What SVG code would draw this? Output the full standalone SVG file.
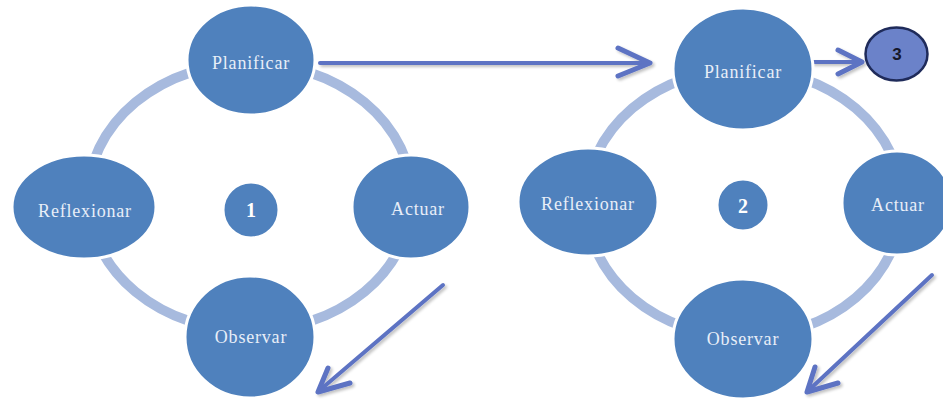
<svg xmlns="http://www.w3.org/2000/svg" width="943" height="402" viewBox="0 0 943 402">
  <defs>
    <filter id="sh" x="-10%" y="-10%" width="130%" height="130%">
      <feGaussianBlur in="SourceAlpha" stdDeviation="1.5"/>
      <feOffset dx="1.5" dy="2" result="b"/>
      <feComponentTransfer><feFuncA type="linear" slope="0.25"/></feComponentTransfer>
      <feMerge><feMergeNode/><feMergeNode in="SourceGraphic"/></feMerge>
    </filter>
  </defs>
  <style>
    .ring { fill: none; stroke: #a7bade; stroke-width: 10; }
    .arrow { fill: none; stroke: #5d73c3; stroke-width: 4; stroke-linecap: round; stroke-linejoin: round; }
    .head { fill: none; stroke: #5d73c3; stroke-width: 5; stroke-linecap: round; stroke-linejoin: round; }
    .node { fill: #4f81bd; stroke: #ffffff; stroke-width: 3; }
    .lbl { font-family: "Liberation Serif", "Times New Roman", serif; font-size: 18px; letter-spacing: 0.8px; fill: #e8eef8; text-anchor: middle; }
    .num { font-family: "Liberation Serif", "Times New Roman", serif; font-size: 20px; font-weight: bold; fill: #ffffff; text-anchor: middle; }
  </style>
  <rect width="943" height="402" fill="#ffffff"/>
  <g id="connectors">
    <ellipse class="ring" cx="250" cy="197" rx="162" ry="134"/>
    <ellipse class="ring" cx="744" cy="203" rx="158" ry="134"/>
    <g filter="url(#sh)">
      <path class="arrow" d="M320,63 L648,63"/>
      <path class="head" d="M618,48 L650,63 L618,76"/>
      <path class="arrow" d="M813,62 L860,62"/>
      <path class="head" d="M838,50 L862,62 L838,74"/>
      <path class="arrow" d="M443,285 L320,390"/>
      <path class="head" d="M328,368 L318,392 L350,383"/>
      <path class="arrow" d="M932,275 L809,390"/>
      <path class="head" d="M815,367 L807,392 L838,383"/>
    </g>
  </g>
  <g id="planificar1">
    <ellipse class="node" cx="251" cy="60" rx="64" ry="55"/>
    <text class="lbl" x="251" y="69">Planificar</text>
  </g>
  <g id="reflexionar1">
    <ellipse class="node" cx="84" cy="207" rx="72" ry="52"/>
    <text class="lbl" x="85" y="217">Reflexionar</text>
  </g>
  <g id="actuar1">
    <ellipse class="node" cx="411" cy="207" rx="59" ry="52"/>
    <text class="lbl" x="418" y="215">Actuar</text>
  </g>
  <g id="observar1">
    <ellipse class="node" cx="250" cy="337" rx="65" ry="61"/>
    <text class="lbl" x="251" y="343">Observar</text>
  </g>
  <g id="center1">
    <circle class="node" cx="251" cy="210" r="28"/>
    <text class="num" x="251" y="217">1</text>
  </g>
  <g id="planificar2">
    <ellipse class="node" cx="743" cy="69" rx="70" ry="61"/>
    <text class="lbl" x="743" y="78">Planificar</text>
  </g>
  <g id="reflexionar2">
    <ellipse class="node" cx="588" cy="202" rx="70" ry="54"/>
    <text class="lbl" x="588" y="210">Reflexionar</text>
  </g>
  <g id="actuar2">
    <ellipse class="node" cx="897" cy="203" rx="55" ry="52"/>
    <text class="lbl" x="898" y="211">Actuar</text>
  </g>
  <g id="observar2">
    <ellipse class="node" cx="743" cy="339" rx="70" ry="60"/>
    <text class="lbl" x="743" y="345">Observar</text>
  </g>
  <g id="center2">
    <circle class="node" cx="743" cy="205" r="26"/>
    <text class="num" x="743" y="213">2</text>
  </g>
  <g id="node3">
    <ellipse cx="896.5" cy="54" rx="31" ry="26.5" fill="#6b82c9" stroke="#1f2b5a" stroke-width="2.5"/>
    <text x="897" y="60" font-family="'Liberation Sans', Arial, sans-serif" font-size="17" font-weight="bold" fill="#16182a" text-anchor="middle">3</text>
  </g>
</svg>
